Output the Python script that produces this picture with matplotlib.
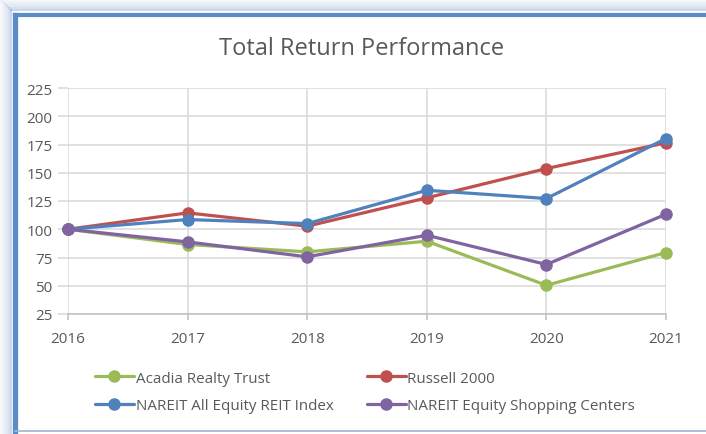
import matplotlib
matplotlib.use("Agg")
import matplotlib.pyplot as plt
from matplotlib.lines import Line2D

years = [2016, 2017, 2018, 2019, 2020, 2021]
acadia = [100, 86.5, 80, 89.4, 50.4, 79.4]
russell = [100, 114.5, 102.7, 127.8, 153.7, 176.5]
nareit_all = [100, 108.6, 105, 134.5, 127.2, 180.3]
nareit_shop = [100, 88.8, 75.6, 94.7, 68.8, 113.3]
y_ticks = [25, 50, 75, 100, 125, 150, 175, 200, 225]
title = "Total Return Performance"
labels = ["Acadia Realty Trust", "Russell 2000",
          "NAREIT All Equity REIT Index", "NAREIT Equity Shopping Centers"]
colors = ["#9BBB59", "#C0504D", "#4F81BD", "#8064A2"]

plt.rcParams['font.family'] = ['Open Sans', 'DejaVu Sans']
W, H = 706, 435
fig = plt.figure(figsize=(W / 100, H / 100), dpi=100)
fig.patch.set_facecolor("white")

def fx(px):
    return px / W

def fy(py):
    return 1 - py / H

ax = fig.add_axes([fx(68), fy(315), fx(666) - fx(68), fy(89) - fy(315)])
series = [acadia, russell, nareit_all, nareit_shop]
handles = []
for vals, col, lab in zip(series, colors, labels):
    h, = ax.plot(years, vals, color=col, lw=2.3, marker='o', ms=8,
                 solid_capstyle='round', label=lab, zorder=3, clip_on=False)
    handles.append(h)

ax.set_xlim(2016, 2021)
ax.set_ylim(25, 225)
ax.set_yticks(y_ticks)
ax.set_xticks(years)
ax.grid(True, color="#D9D9D9", lw=1.1)
for s in ["top", "right", "left"]:
    ax.spines[s].set_visible(False)
ax.spines["bottom"].set_color("#BFBFBF")
ax.spines["bottom"].set_linewidth(1.1)
ax.tick_params(axis='y', length=7, color="#D9D9D9", width=1.1, pad=4,
               labelsize=11, labelcolor="#595959")
ax.tick_params(axis='x', length=4, color="#BFBFBF", width=1.1, pad=8,
               labelsize=11, labelcolor="#595959")
ax.set_axisbelow(True)

fig.text(fx(362), fy(49), title, ha='center', va='center', fontsize=17,
         color="#595959")

order = [0, 2, 1, 3]
leg = fig.legend([handles[i] for i in order], [labels[i] for i in order],
                 ncol=2, loc='center left',
                 bbox_to_anchor=(fx(81), fy(393)), frameon=False,
                 fontsize=10.9, labelcolor="#595959", handlelength=2.6,
                 handletextpad=0.1, columnspacing=2.2, labelspacing=0.85)

# frame: soft outer glow (outside only)
glow = [(0.5, 0.05), (2.5, 0.08), (4.5, 0.12), (6.5, 0.16), (8.5, 0.22),
        (10.5, 0.3)]
for pos, a in glow:
    fig.add_artist(Line2D([fx(pos), fx(pos)], [fy(pos), fy(435)],
                          transform=fig.transFigure, color="#4F81BD",
                          lw=1.5, alpha=a))
    fig.add_artist(Line2D([fx(pos), fx(706)], [fy(pos), fy(pos)],
                          transform=fig.transFigure, color="#4F81BD",
                          lw=1.5, alpha=a))
fig.add_artist(Line2D([fx(14.5), fx(14.5)], [fy(16), fy(435)],
                      transform=fig.transFigure, color="#5B8CC8", lw=3.8,
                      solid_capstyle='projecting'))
fig.add_artist(Line2D([fx(14.5), fx(706)], [fy(16), fy(16)],
                      transform=fig.transFigure, color="#5B8CC8", lw=3.0,
                      solid_capstyle='projecting'))
fig.add_artist(Line2D([fx(14.5), fx(706)], [fy(432), fy(432)],
                      transform=fig.transFigure, color="#9DB5D6", lw=1.2))

fig.savefig("out.png", dpi=100)
